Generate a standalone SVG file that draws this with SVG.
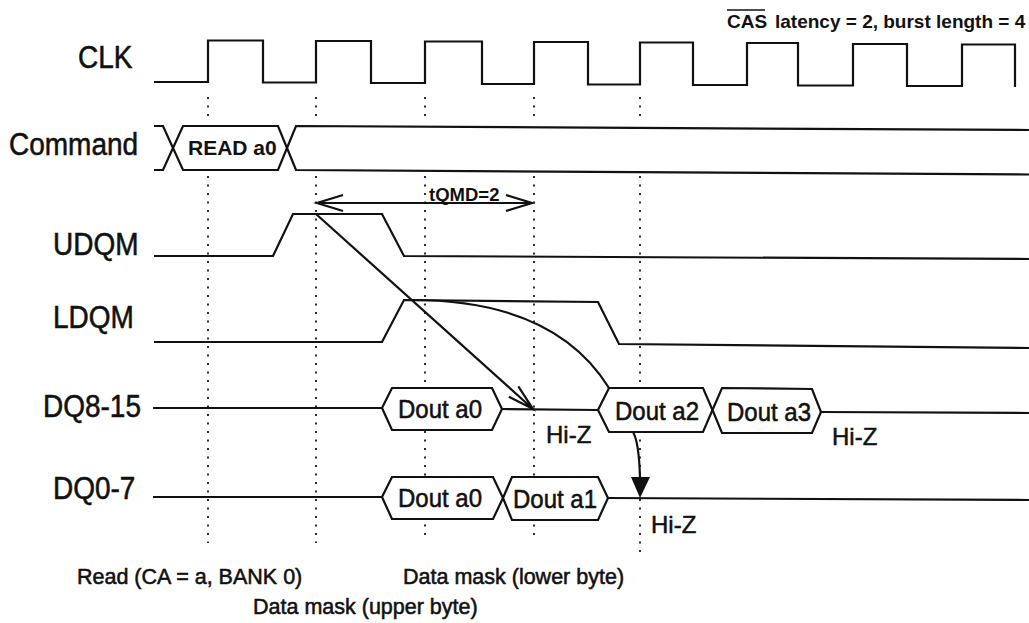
<svg xmlns="http://www.w3.org/2000/svg" width="1029" height="623" viewBox="0 0 1029 623">
<style>
.w{fill:none;stroke:#111;stroke-width:2.2;stroke-linejoin:miter}
.hex{fill:#fff;stroke:#111;stroke-width:2.2}
.dot{stroke:#222;stroke-width:1.9;stroke-dasharray:2 6.5;fill:none}
.lbl{font-family:"Liberation Sans",Arial,sans-serif;font-size:28px;fill:#111;stroke:#111;stroke-width:0.5}
.dout{font-family:"Liberation Sans",Arial,sans-serif;font-size:24px;fill:#111;stroke:#111;stroke-width:0.5}
.small{font-family:"Liberation Sans",Arial,sans-serif;font-size:21.5px;fill:#111;stroke:#111;stroke-width:0.55}
.bold{font-family:"Liberation Sans",Arial,sans-serif;font-weight:bold;fill:#111}
.arr{fill:none;stroke:#111;stroke-width:2.2}
</style>
<rect width="1029" height="623" fill="#fff"/>
<g id="grid">
<path class="dot" d="M208,97V121M208,176V543M316,97V121M316,176V543M425,97V121M425,176V540M534,97V121M534,176V540M640,97V121M640,176V557"/>
</g>
<g id="title">
<text class="bold" font-size="19" x="727" y="28">CAS</text>
<line x1="727" y1="10" x2="765" y2="10" stroke="#111" stroke-width="1.6"/>
<text class="bold" font-size="19" x="775" y="28">latency = 2, burst length = 4</text>
</g>
<g id="clk">
<text class="lbl" transform="translate(78 68) scale(1 1.1)">CLK</text>
<path class="w" d="M154,82H208V40.5H263V82.5H316V41H371V83H425V41.5H482V84H534V42H588V84.5H640V42.5H693V85H747V43H798V85.5H853V44H907V86H962V44.5H1015V87"/>
</g>
<g id="command">
<text class="lbl" transform="translate(9 155) scale(1 1.1)">Command</text>
<path class="w" d="M154,126H163L173,148L163,170H154"/>
<polygon class="hex" points="173,148 183,126 278,126 287,148 278,170 183,170"/>
<path class="w" d="M287,148L296,126L1029,130M287,148L296,170L1029,174.5"/>
<text class="bold" font-size="21" x="188" y="155">READ a0</text>
</g>
<g id="udqm">
<text class="lbl" transform="translate(53 255) scale(1 1.1)">UDQM</text>
<path class="w" d="M154,256H273L293,214H382L404,256L1029,259"/>
</g>
<g id="ldqm">
<text class="lbl" transform="translate(53 328) scale(1 1.1)">LDQM</text>
<path class="w" d="M154,342H382L404,300L598,302L619,344L1029,348"/>
</g>
<g id="dq8-15">
<text class="lbl" transform="translate(43 417) scale(1 1.1)">DQ8-15</text>
<path class="w" d="M153,408H382M502,409L598,410M821,412L1029,413"/>
<polygon class="hex" points="382,408 392,388 492,388 502,409 492,430 392,430"/>
<polygon class="hex" points="598,410 609,388 703,388 712.5,410 703,432 609,432"/>
<polygon class="hex" points="712.5,410 722,388 812,389 821,412 812,433 722,433"/>
<text class="dout" transform="translate(398 418) scale(1 1.1)">Dout a0</text>
<text class="dout" transform="translate(615 420) scale(1 1.1)">Dout a2</text>
<text class="dout" transform="translate(727 421) scale(1 1.1)">Dout a3</text>
<text class="dout" x="546" y="443">Hi-Z</text>
<text class="dout" x="832" y="445">Hi-Z</text>
</g>
<g id="dq0-7">
<text class="lbl" transform="translate(53 499) scale(1 1.1)">DQ0-7</text>
<path class="w" d="M153,497H382M608,498L1029,500"/>
<polygon class="hex" points="382,497 392,477 493,477 503,498 493,519 392,519"/>
<polygon class="hex" points="503,498 512,477 598,477 608,498 598,520 512,520"/>
<text class="dout" transform="translate(398 507) scale(1 1.1)">Dout a0</text>
<text class="dout" transform="translate(513 508) scale(1 1.1)">Dout a1</text>
<text class="dout" x="651" y="533">Hi-Z</text>
</g>
<g id="connectors">
<path class="arr" d="M317,203H532M343,195L317,203L343,211M506,195L532,203L506,211"/>
<text class="bold" font-size="18.5" x="429" y="201">tQMD=2</text>
<path class="arr" d="M316,214L533,409M518.3,386.4L533,409L508.9,396.8"/>
<path class="arr" d="M412,300C500,300 570,325 609,388"/>
<path class="arr" d="M633,432Q639,442 640,478"/>
<polygon points="631,477 650,477 640,498" fill="#111"/>
</g>
<g id="notes">
<text class="small" x="77" y="584">Read (CA = a, BANK 0)</text>
<text class="small" x="403" y="584">Data mask (lower byte)</text>
<text class="small" x="253" y="614">Data mask (upper byte)</text>
</g>
</svg>
